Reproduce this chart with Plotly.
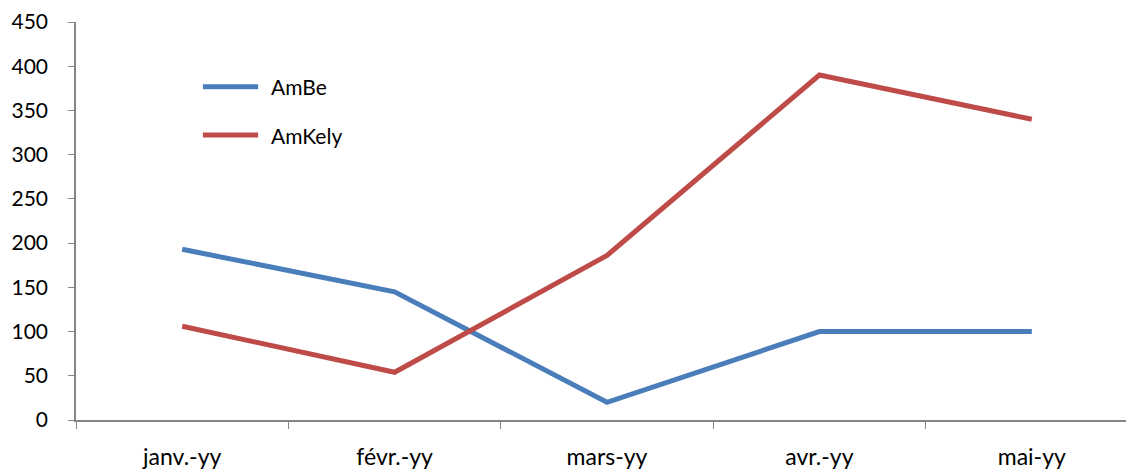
import plotly.graph_objects as go

categories = ["janv.-yy", "févr.-yy", "mars-yy", "avr.-yy", "mai-yy"]
ambe = [193, 145, 20, 100, 100]
amkely = [106, 54, 186, 390, 340]
y_ticks = [0, 50, 100, 150, 200, 250, 300, 350, 400, 450]
series_names = ["AmBe", "AmKely"]
series_colors = ["#4A7EBB", "#BE4B48"]

fig = go.Figure()
for name, vals, col in zip(series_names, [ambe, amkely], series_colors):
    fig.add_trace(go.Scatter(x=categories, y=vals, mode="lines", name=name,
                             line=dict(color=col, width=5), showlegend=False))

# manual legend (long line samples like the reference)
legend_y = [0.837, 0.716]
for name, col, ly in zip(series_names, series_colors, legend_y):
    fig.add_shape(type="line", xref="paper", yref="paper", x0=0.1195, x1=0.1715,
                  y0=ly, y1=ly, line=dict(color=col, width=5))
    fig.add_annotation(xref="paper", yref="paper", x=0.182, y=ly, text=name,
                       showarrow=False, xanchor="left", yanchor="middle",
                       font=dict(size=21))

fig.update_layout(
    width=1134, height=469,
    margin=dict(l=68, r=4, t=14, b=57),
    plot_bgcolor="white", paper_bgcolor="white",
    font=dict(family="Lato, Open Sans, sans-serif", size=21, color="#000000"),
    showlegend=False,
)
fig.update_xaxes(type="category", range=[-0.5, 4.5], showline=True, linecolor="#868686",
                 linewidth=1.5, ticks="outside", tickson="boundaries", ticklen=7,
                 tickcolor="#868686", showgrid=False, zeroline=False,
                 tickfont=dict(size=23), ticklabelstandoff=16, automargin=False)
fig.update_yaxes(range=[0, 450], tickvals=y_ticks, showline=True, linecolor="#868686",
                 linewidth=1.5, ticks="outside", ticklen=6, tickcolor="#868686",
                 showgrid=False, zeroline=False, ticklabelstandoff=16, automargin=False)

fig.write_html("out.html")
